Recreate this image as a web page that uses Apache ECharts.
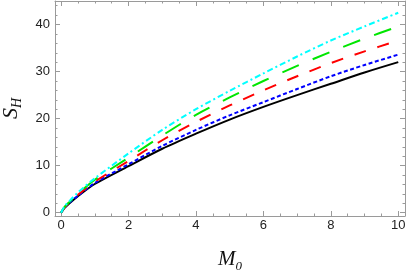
<!DOCTYPE html>
<html>
<head>
<meta charset="utf-8">
<script src="https://cdn.jsdelivr.net/npm/echarts@6/dist/echarts.min.js"></script>
<style>
html,body{margin:0;padding:0;background:#fff;}
#c{width:407px;height:273px;}
</style>
</head>
<body>
<div id="c"></div>
<script>
// ---- data ----
var M0 = [0, 0.1, 0.25, 0.5, 1, 2, 3, 4, 5, 6, 7, 8, 9, 10];
var sBlack = [0, 1.0, 2.0, 3.5, 6.1, 9.9, 13.6, 16.8, 19.8, 22.5, 25.0, 27.4, 29.8, 32.0];
var sBlue  = [0, 1.0, 2.1, 3.6, 6.3, 10.3, 14.2, 17.6, 20.7, 23.5, 26.3, 29.0, 31.4, 33.6];
var sRed   = [0, 1.1, 2.2, 3.8, 6.6, 11.0, 15.4, 19.3, 22.8, 26.0, 29.0, 31.8, 34.3, 36.6];
var sGreen = [0, 1.2, 2.3, 4.0, 7.0, 11.7, 16.4, 20.8, 24.5, 28.0, 31.2, 34.2, 37.0, 39.6];
var sCyan  = [0, 1.3, 2.5, 4.3, 7.3, 12.6, 17.6, 22.0, 25.9, 29.6, 33.2, 36.6, 39.6, 42.5];

// tick positions / labels
var xMajor = [0, 2, 4, 6, 8, 10];
var xMinor = [0.5, 1, 1.5, 2.5, 3, 3.5, 4.5, 5, 5.5, 6.5, 7, 7.5, 8.5, 9, 9.5];
var yMajor = [0, 10, 20, 30, 40];
var yMinor = [2, 4, 6, 8, 12, 14, 16, 18, 22, 24, 26, 28, 32, 34, 36, 38, 42, 44];

function pairs(xs, ys) { return xs.map(function (x, i) { return [x, ys[i]]; }); }

var frameColor = '#9a9a9a';
var labelColor = '#222';
var xMin = -0.18, xMax = 10.2, yMin = -0.7, yMax = 45;

function xAx(pos, ticks, len, showLine, label) {
  var a = {
    type: 'value', min: xMin, max: xMax, position: pos,
    axisLine: { show: showLine, onZero: false, lineStyle: { color: frameColor, width: 1 } },
    axisTick: { show: true, inside: true, length: len, customValues: ticks, lineStyle: { color: frameColor, width: 1 } },
    axisLabel: { show: false },
    splitLine: { show: false }
  };
  if (label) {
    a.axisLabel = { show: true, customValues: ticks, color: labelColor, fontFamily: 'Liberation Sans', fontSize: 13, margin: 3 };
    a.name = '{m|M}{s|0}';
    a.nameLocation = 'middle';
    a.nameGap = 33;
    a.nameTextStyle = {
      rich: {
        m: { fontFamily: 'Liberation Serif', fontStyle: 'italic', fontSize: 21, lineHeight: 24, color: '#111', verticalAlign: 'top' },
        s: { fontFamily: 'Liberation Serif', fontStyle: 'italic', fontSize: 13, lineHeight: 13, color: '#111', verticalAlign: 'bottom' }
      }
    };
  }
  return a;
}
function yAx(pos, ticks, len, showLine, label) {
  var a = {
    type: 'value', min: yMin, max: yMax, position: pos,
    axisLine: { show: showLine, onZero: false, lineStyle: { color: frameColor, width: 1 } },
    axisTick: { show: true, inside: true, length: len, customValues: ticks, lineStyle: { color: frameColor, width: 1 } },
    axisLabel: { show: false },
    splitLine: { show: false }
  };
  if (label) {
    a.axisLabel = { show: true, customValues: ticks, color: labelColor, fontFamily: 'Liberation Sans', fontSize: 13, margin: 5 };
    a.name = '{m|S}{s|H}';
    a.nameLocation = 'middle';
    a.nameRotate = 90;
    a.nameGap = 24;
    a.nameTextStyle = {
      rich: {
        m: { fontFamily: 'Liberation Serif', fontStyle: 'italic', fontSize: 22, lineHeight: 24, color: '#111', verticalAlign: 'top' },
        s: { fontFamily: 'Liberation Serif', fontStyle: 'italic', fontSize: 14, lineHeight: 13, color: '#111', verticalAlign: 'bottom' }
      }
    };
  }
  return a;
}

function line(name, data, color, dash) {
  return {
    name: name, type: 'line', xAxisIndex: 0, yAxisIndex: 0,
    data: data, showSymbol: false, smooth: 0.3,
    lineStyle: { color: color, width: 2, type: dash },
    silent: true, animation: false, z: 3
  };
}

var chart = echarts.init(document.getElementById('c'), null, { renderer: 'canvas' });
chart.setOption({
  animation: false,
  backgroundColor: '#fff',
  grid: { left: 55, right: 2, top: 1, bottom: 57, containLabel: false, outerBoundsMode: 'none' },
  xAxis: [
    xAx('bottom', xMajor, 5, true, true),
    xAx('bottom', xMinor, 2.5, false, false),
    xAx('top', xMajor, 5, true, false),
    xAx('top', xMinor, 2.5, false, false)
  ],
  yAxis: [
    yAx('left', yMajor, 5, true, true),
    yAx('left', yMinor, 2.5, false, false),
    yAx('right', yMajor, 5, true, false),
    yAx('right', yMinor, 2.5, false, false)
  ],
  series: [
    line('black', pairs(M0, sBlack), '#000000', 'solid'),
    line('blue', pairs(M0, sBlue), '#0000ff', [4, 2.5]),
    line('red', pairs(M0, sRed), '#ff0000', [12, 12]),
    line('green', pairs(M0, sGreen), '#00e600', [18, 15]),
    line('cyan', pairs(M0, sCyan), '#00ffff', [6, 3, 2, 3])
  ]
});
</script>
</body>
</html>
